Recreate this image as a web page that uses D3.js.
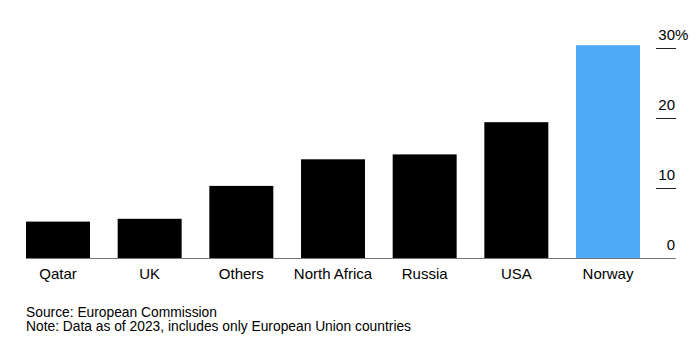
<!DOCTYPE html>
<html>
<head>
<meta charset="utf-8">
<script src="https://cdn.jsdelivr.net/npm/d3@7"></script>
<style>
  html, body { margin: 0; padding: 0; background: #fff; }
  svg { display: block; font-family: "Liberation Sans", Arial, Helvetica, sans-serif; }
</style>
</head>
<body>
<svg id="chart" width="700" height="353"></svg>
<script>
const categories = ["Qatar", "UK", "Others", "North Africa", "Russia", "USA", "Norway"];
const values = [5.2, 5.6, 10.3, 14.1, 14.8, 19.4, 30.4];
const highlight = "Norway";
const yTicks = [0, 10, 20, 30];
const sourceLines = [
  "Source: European Commission",
  "Note: Data as of 2023, includes only European Union countries"
];

const svg = d3.select("#chart");
const baseY = 258;

const x = d3.scaleBand().domain(categories).range([26, 640]).paddingInner(0.302).paddingOuter(0);
const y = d3.scaleLinear().domain([0, 30]).range([baseY, 48]);

// bars
svg.append("g").selectAll("rect")
  .data(categories.map((c, i) => ({ c, v: values[i] })))
  .join("rect")
  .attr("x", d => x(d.c))
  .attr("width", x.bandwidth())
  .attr("y", d => y(d.v))
  .attr("height", d => y(0) - y(d.v))
  .attr("fill", d => d.c === highlight ? "#4eaaf8" : "#000");

// baseline
svg.append("line")
  .attr("x1", 26).attr("x2", 676)
  .attr("y1", baseY + 0.5).attr("y2", baseY + 0.5)
  .attr("stroke", "#777").attr("stroke-width", 1);

// y axis on right
const yAxis = d3.axisLeft(y).tickValues(yTicks).tickSize(20).tickFormat(d => d);
const gy = svg.append("g").attr("transform", "translate(676,0)").call(yAxis);
gy.select(".domain").remove();
gy.selectAll(".tick line")
  .attr("stroke", d => d === 0 ? "none" : "#222");
gy.selectAll(".tick text")
  .attr("x", -1)
  .attr("dy", 0)
  .attr("y", -9)
  .attr("text-anchor", "end")
  .attr("font-size", 15)
  .attr("font-family", "Liberation Sans, Arial, sans-serif")
  .attr("fill", "#000");
gy.selectAll(".tick")
  .filter(d => d === 30)
  .append("text")
  .attr("x", -1).attr("y", -9)
  .attr("text-anchor", "start")
  .attr("font-size", 15)
  .attr("font-family", "Liberation Sans, Arial, sans-serif")
  .attr("fill", "#000")
  .text("%");

// category labels
const xAxis = d3.axisBottom(x).tickSize(0).tickPadding(0);
const gx = svg.append("g").attr("transform", `translate(0,${baseY})`).call(xAxis);
gx.select(".domain").remove();
gx.selectAll(".tick text")
  .attr("y", 21)
  .attr("dy", 0)
  .attr("font-size", 15)
  .attr("font-family", "Liberation Sans, Arial, sans-serif")
  .attr("fill", "#000");

// footer
svg.append("g").selectAll("text")
  .data(sourceLines)
  .join("text")
  .attr("x", 26)
  .attr("y", (d, i) => 316.5 + i * 14.8)
  .attr("font-size", 13.8)
  .attr("fill", "#000")
  .text(d => d);
</script>
</body>
</html>
